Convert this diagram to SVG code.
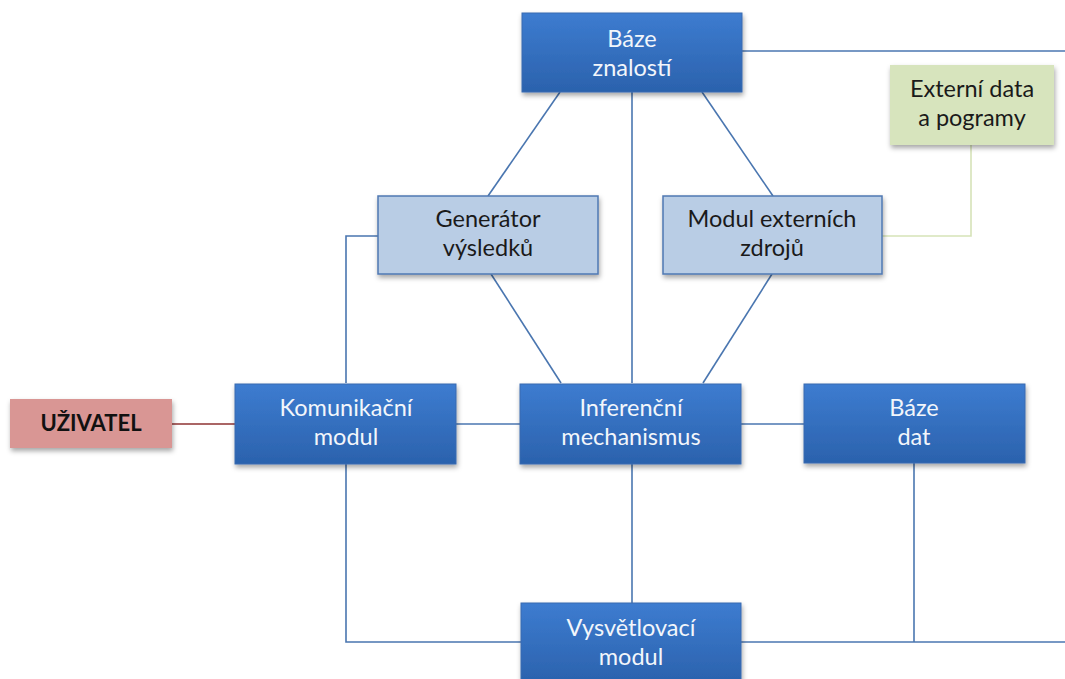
<svg xmlns="http://www.w3.org/2000/svg" width="1065" height="679" viewBox="0 0 1065 679">
  <defs>
    <linearGradient id="blueFill" x1="0" y1="0" x2="0" y2="1">
      <stop offset="0" stop-color="#3d7cd0"/>
      <stop offset="1" stop-color="#2b62ad"/>
    </linearGradient>
    <filter id="shadow" x="-10%" y="-10%" width="125%" height="135%">
      <feDropShadow dx="1" dy="3" stdDeviation="2.5" flood-color="#000" flood-opacity="0.35"/>
    </filter>
  </defs>
  <style>
    .link { fill: none; stroke: #4a76b0; stroke-width: 1.6; }
    .link-ext { fill: none; stroke: #d6e3b8; stroke-width: 1.6; }
    .link-user { fill: none; stroke: #8e3232; stroke-width: 1.6; }
    .dark rect { fill: url(#blueFill); stroke: #3a6bb0; stroke-width: 1; filter: url(#shadow); }
    .dark text { fill: #f2f6fb; }
    .light rect { fill: #b9cde5; stroke: #4f78b3; stroke-width: 1.5; filter: url(#shadow); }
    .light text { fill: #1a1a1a; }
    .green rect { fill: #d7e4bd; filter: url(#shadow); }
    .green text { fill: #1a1a1a; }
    .user rect { fill: #d99694; filter: url(#shadow); }
    .user text { fill: #111; font-weight: bold; font-size: 22px; }
    text { font-family: Lato, "Open Sans", "Liberation Sans", sans-serif; font-size: 23.5px; text-anchor: middle; }
  </style>

  <!-- connectors -->
  <g id="connectors">
    <path class="link" d="M742 51 H1065"/>
    <path class="link" d="M560 92 L488 196"/>
    <path class="link" d="M702 92 L773 196"/>
    <path class="link" d="M632 92 V383"/>
    <path class="link" d="M491 274 L561 383"/>
    <path class="link" d="M772 274 L703 383"/>
    <path class="link" d="M378 236 H346 V383"/>
    <path class="link-ext" d="M882 236 H971 V145"/>
    <path class="link-user" d="M172 424 H235"/>
    <path class="link" d="M456 424 H520"/>
    <path class="link" d="M741 424 H804"/>
    <path class="link" d="M346 464 V642 H521"/>
    <path class="link" d="M632 464 V603"/>
    <path class="link" d="M741 642 H1065"/>
    <path class="link" d="M914 463 V642"/>
  </g>

  <!-- nodes -->
  <g id="baze-znalosti" class="dark">
    <rect x="522" y="13" width="220" height="79"/>
    <text x="632" y="47">Báze</text>
    <text x="632" y="76">znalostí</text>
  </g>

  <g id="externi-data" class="green">
    <rect x="890" y="65" width="164" height="80"/>
    <text x="972" y="97">Externí data</text>
    <text x="972" y="126">a pogramy</text>
  </g>

  <g id="generator-vysledku" class="light">
    <rect x="378" y="196" width="220" height="78"/>
    <text x="488" y="227">Generátor</text>
    <text x="488" y="256">výsledků</text>
  </g>

  <g id="modul-externich-zdroju" class="light">
    <rect x="663" y="196" width="219" height="78"/>
    <text x="772" y="227">Modul externích</text>
    <text x="772" y="256">zdrojů</text>
  </g>

  <g id="uzivatel" class="user">
    <rect x="10" y="399" width="162" height="49"/>
    <text x="91" y="431">UŽIVATEL</text>
  </g>

  <g id="komunikacni-modul" class="dark">
    <rect x="235" y="384" width="221" height="80"/>
    <text x="346" y="416">Komunikační</text>
    <text x="346" y="445">modul</text>
  </g>

  <g id="inferencni-mechanismus" class="dark">
    <rect x="520" y="384" width="221" height="80"/>
    <text x="631" y="416">Inferenční</text>
    <text x="631" y="445">mechanismus</text>
  </g>

  <g id="baze-dat" class="dark">
    <rect x="804" y="384" width="221" height="79"/>
    <text x="914" y="416">Báze</text>
    <text x="914" y="445">dat</text>
  </g>

  <g id="vysvetlovaci-modul" class="dark">
    <rect x="521" y="603" width="220" height="80"/>
    <text x="631" y="636">Vysvětlovací</text>
    <text x="631" y="665">modul</text>
  </g>
</svg>
